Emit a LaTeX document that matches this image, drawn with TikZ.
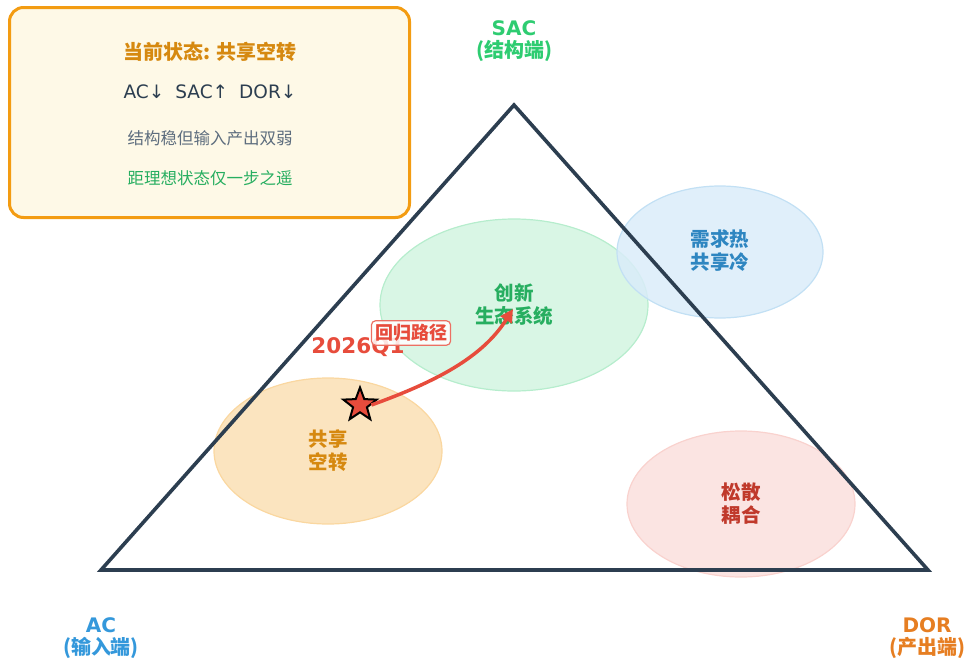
\documentclass[tikz,border=0pt]{standalone}
\usepackage{fontspec}
\setmainfont{DejaVu Sans}
\newfontfamily\cjk{Noto Sans CJK SC}
\usetikzlibrary{shapes.geometric,arrows.meta}
\definecolor{navy}{HTML}{2C3E50}
\definecolor{sacg}{HTML}{2ECC71}
\definecolor{acb}{HTML}{3498DB}
\definecolor{doro}{HTML}{E67E22}
\definecolor{redc}{HTML}{E74C3C}
\definecolor{boxo}{HTML}{F39C12}
\definecolor{boxf}{HTML}{FEF9E7}
\definecolor{greent}{HTML}{27AE60}
\definecolor{bluet}{HTML}{2E86C1}
\definecolor{oranget}{HTML}{D68910}
\definecolor{redt}{HTML}{C0392B}
\definecolor{grayt}{HTML}{5D6D7E}
\tikzset{
  zone/.style={ellipse, draw, line width=1.2pt, minimum width=#1},
  zonelabel/.style={align=center, font=\cjk\bfseries\fontsize{19.5}{23}\selectfont},
  corner/.style={align=center, font=\bfseries\fontsize{20}{22}\selectfont},
}
\begin{document}
\begin{tikzpicture}[x=1pt,y=-1pt]
\useasboundingbox (0,0) rectangle (970,659);
% zones
\node[zone=268pt, minimum height=172pt, draw=sacg!35, fill=sacg!18] (inno) at (514,305) {};
\node[zone=206pt, minimum height=132pt, draw=acb!30, fill=acb!18, fill opacity=0.85] (hot) at (720,252) {};
\node[zone=228pt, minimum height=146pt, draw=boxo!40, fill=boxo!30, fill opacity=0.9] (idle) at (328,451) {};
\node[zone=228pt, minimum height=146pt, draw=redc!25, fill=redc!15] (loose) at (741,504) {};
% triangle
\coordinate (top) at (514,105);
\coordinate (left) at (101,570);
\coordinate (right) at (928,570);
\draw[navy, line width=3.6pt, line join=miter] (top) -- (right) -- (left) -- cycle;
% zone labels
\node[zonelabel, text=greent] (innot) at (514,305) {创新\\生态系统};
\node[zonelabel, text=bluet] (hott) at (720,251) {需求热\\共享冷};
\node[zonelabel, text=oranget] (idlet) at (328,451) {共享\\空转};
\node[zonelabel, text=redt] (looset) at (741,504) {松散\\耦合};
% year label
\node[text=redc, font=\bfseries\fontsize{21.5}{24}\selectfont] (year) at (358,347) {2026Q1};
% star and arrow
\node[star, star points=5, star point ratio=2.4, draw=black, fill=redc, line width=2pt, minimum size=35pt, inner sep=0pt] (star) at (360,405) {};
\coordinate (tip) at (513,309);
\draw[redc, line width=3.5pt, -{Triangle[length=13pt,width=13pt]}] (star.east) .. controls (435,382) and (482,358) .. (tip);
\node[draw=redc!80, fill=white, fill opacity=0.85, text opacity=1, text=redc, rounded corners=4pt, line width=1.2pt, inner sep=3.5pt, font=\cjk\bfseries\fontsize{18}{20}\selectfont] (path) at (411,333) {回归路径};
% corner labels
\node[corner, text=sacg] (sac) at (514,41) {SAC\\{\cjk (结构端)}};
\node[corner, text=acb] (ac) at (101,638) {AC\\{\cjk (输入端)}};
\node[corner, text=doro] (dor) at (927,638) {DOR\\{\cjk (产出端)}};
% info box
\node[draw=boxo, fill=boxf, line width=3pt, rounded corners=14pt, minimum width=400pt, minimum height=210pt] (box) at (209.5,112.5) {};
\node[text=oranget, font=\cjk\bfseries\fontsize{20}{22}\selectfont] (title) at (210,52) {当前状态: 共享空转};
\node[text=navy, font=\fontsize{18.5}{21}\selectfont] (arrows) at (210,92) {AC↓\hspace{11pt}SAC↑\hspace{11pt}DOR↓};
\node[text=grayt, font=\cjk\fontsize{16.5}{19}\selectfont] (weak) at (210,138) {结构稳但输入产出双弱};
\node[text=greent, font=\cjk\fontsize{16.5}{19}\selectfont] (near) at (210,178) {距理想状态仅一步之遥};
\end{tikzpicture}
\end{document}
